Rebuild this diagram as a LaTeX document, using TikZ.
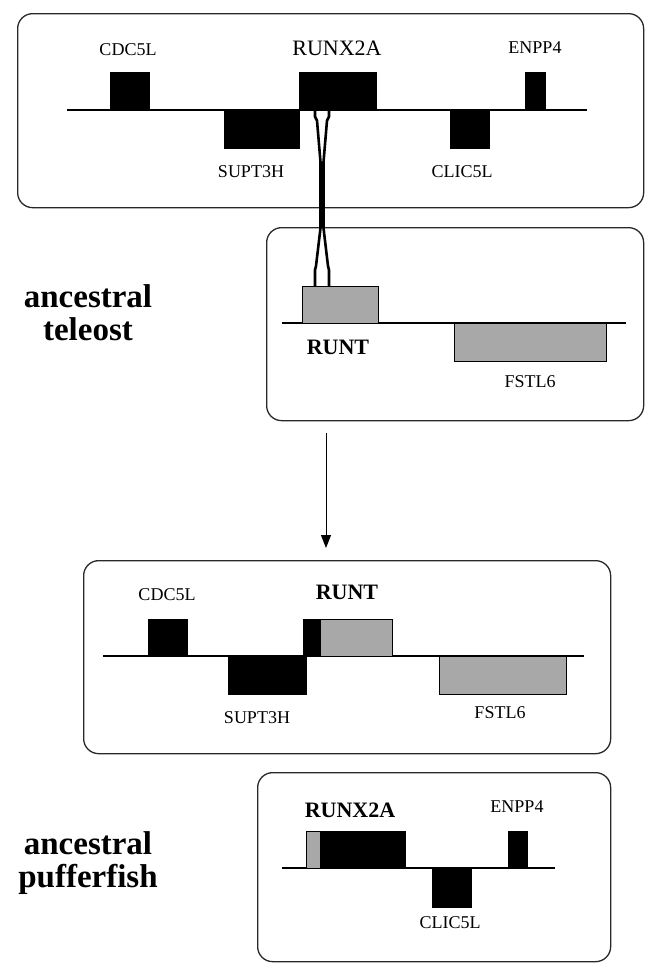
\documentclass[tikz,border=0pt]{standalone}
\usepackage{fontspec}
\setmainfont{Liberation Serif}
\usetikzlibrary{calc,arrows.meta}
\definecolor{genegray}{RGB}{168,168,168}
\definecolor{framecol}{RGB}{40,40,40}
\tikzset{
  cont/.style={draw=framecol, line width=1.3pt, rounded corners=15pt, inner sep=0pt, anchor=north west},
  blk/.style={fill=black, draw=black, line width=0.6pt, inner sep=0pt, anchor=north west},
  gry/.style={fill=genegray, draw=black, line width=1pt, inner sep=0pt, anchor=north west},
  chrom/.style={line width=1.2pt, black},
  glab/.style={font=\fontsize{18}{20}\selectfont, inner sep=0pt},
  blab/.style={font=\fontsize{22}{24}\selectfont\bfseries, inner sep=0pt},
  biglab/.style={font=\fontsize{33}{36}\selectfont\bfseries, align=center, inner sep=0pt},
  crossln/.style={line width=2.6pt, black, line join=round},
  arr/.style={line width=1pt, -{Triangle[length=13pt,width=10pt]}}
}
\begin{document}
\begin{tikzpicture}[x=1pt,y=-1pt]
\useasboundingbox (0,0) rectangle (645,964);

% ---------- box 1 ----------
\node[cont, minimum width=626pt, minimum height=194pt] (c1) at (17,13) {};
\coordinate (l1a) at (67,110); \coordinate (l1b) at (587,110);
\draw[chrom] (l1a) -- (l1b);
\node[blk, minimum width=39pt, minimum height=38pt] (cdc1) at (110,72) {};
\node[blk, minimum width=77pt, minimum height=38pt] (rx1) at (299,72) {};
\node[blk, minimum width=20pt, minimum height=38pt] (enp1) at (525,72) {};
\node[blk, minimum width=75pt, minimum height=38pt] (sup1) at (224,110) {};
\node[blk, minimum width=39pt, minimum height=38pt] (cli1) at (450,110) {};
\node[glab] (tcdc1) at (128,50) {CDC5L};
\node[blab, font=\fontsize{22}{24}\selectfont] (trx1) at (337,48) {RUNX2A};
\node[glab] (tenp1) at (535,48) {ENPP4};
\node[glab] (tsup1) at (251,172) {SUPT3H};
\node[glab] (tcli1) at (462,172) {CLIC5L};

% ---------- box 2 ----------
\node[cont, minimum width=377pt, minimum height=193pt] (c2) at (266,227) {};
\draw[chrom] (282,323) coordinate (l2a) -- (626,323) coordinate (l2b);
\node[gry, minimum width=76pt, minimum height=37pt] (runt2) at (302,286) {};
\node[gry, minimum width=152pt, minimum height=38pt] (fst2) at (454,323) {};
\node[blab] (trunt2) at (338,347) {RUNT};
\node[glab] (tfst2) at (530,382) {FSTL6};
\node[biglab] (teleost) at (88,313) {ancestral\\[-3pt]teleost};

% crossing connector
\coordinate (xa) at ($(rx1.south west)+(16,0)$);
\coordinate (xb) at ($(rx1.south west)+(30,0)$);
\coordinate (ya) at ($(runt2.north west)+(13,0)$);
\coordinate (yb) at ($(runt2.north west)+(27,0)$);
\draw[crossln] (xa) -- ++(0,6) -- ++(2,4) -- (320.5,162) -- (320.5,228) -- (316,266) -- ++(-1,4) -- (ya);
\draw[crossln] (xb) -- ++(0,6) -- ++(-2,4) -- (323.5,162) -- (323.5,228) -- (328,266) -- ++(1,4) -- (yb);

% arrow
\coordinate (ar1) at (326,433);
\coordinate (ar2) at (326,548);
\draw[arr] (ar1) -- (ar2);

% ---------- box 3 ----------
\node[cont, minimum width=527pt, minimum height=193pt] (c3) at (83,560) {};
\draw[chrom] (103,656) coordinate (l3a) -- (584,656) coordinate (l3b);
\node[blk, minimum width=39pt, minimum height=37pt] (cdc3) at (148,619) {};
\node[blk, minimum width=17pt, minimum height=37pt] (rb3) at (303,619) {};
\node[gry, minimum width=72pt, minimum height=37pt] (runt3) at (320,619) {};
\node[blk, minimum width=78pt, minimum height=38pt] (sup3) at (228,656) {};
\node[gry, minimum width=127pt, minimum height=38pt] (fst3) at (439,656) {};
\node[glab] (tcdc3) at (167,595) {CDC5L};
\node[blab] (trunt3) at (347,592) {RUNT};
\node[glab] (tsup3) at (257,718) {SUPT3H};
\node[glab] (tfst3) at (500,713) {FSTL6};

% ---------- box 4 ----------
\node[cont, minimum width=353pt, minimum height=189pt] (c4) at (257,772) {};
\draw[chrom] (282,868) coordinate (l4a) -- (555,868) coordinate (l4b);
\node[gry, minimum width=14pt, minimum height=37pt] (rg4) at (306,831) {};
\node[blk, minimum width=85pt, minimum height=37pt] (rx4) at (320,831) {};
\node[blk, minimum width=19pt, minimum height=37pt] (enp4) at (508,831) {};
\node[blk, minimum width=39pt, minimum height=39pt] (cli4) at (432,868) {};
\node[blab] (trx4) at (350,810) {RUNX2A};
\node[glab] (tenp4) at (517,807) {ENPP4};
\node[glab] (tcli4) at (450,923) {CLIC5L};
\node[biglab] (puffer) at (88,863) {ancestral\\[-3pt]pufferfish};
\end{tikzpicture}
\end{document}
